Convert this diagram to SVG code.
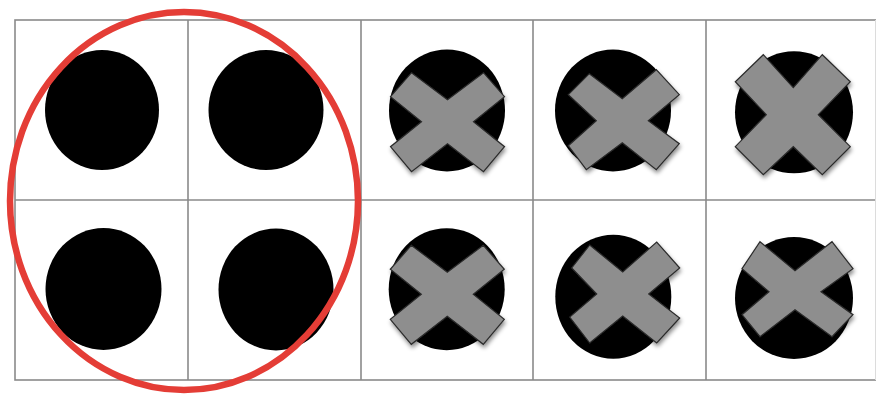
<svg xmlns="http://www.w3.org/2000/svg" width="876" height="401" viewBox="0 0 876 401">
  <defs>
    <style>
      .grid { fill: none; stroke: #8a8a8a; stroke-width: 1.6; }
      .dot { fill: #000; }
      .cross { fill: #8e8e8e; stroke: #2a2a2a; stroke-width: 1.2; stroke-linejoin: miter; filter: url(#shadow); }
      .ring { fill: none; stroke: #e43d36; stroke-width: 6.5; }
    </style>
    <filter id="shadow" x="-20%" y="-20%" width="150%" height="150%">
      <feDropShadow dx="1" dy="3" stdDeviation="2" flood-color="#000" flood-opacity="0.45"/>
    </filter>
    <polygon id="xmark" points="-36,-49 0,-22 36,-49 57,-25 26,0 57,25 36,50 0,22 -36,50 -57,25 -26,0 -57,-25"/>
  </defs>
  <rect width="876" height="401" fill="#fff"/>

  <g id="frame">
    <rect class="grid" x="15" y="20" width="861" height="360"/>
    <line class="grid" x1="15" y1="200" x2="876" y2="200"/>
    <line class="grid" x1="188" y1="20" x2="188" y2="380"/>
    <line class="grid" x1="361" y1="20" x2="361" y2="380"/>
    <line class="grid" x1="533" y1="20" x2="533" y2="380"/>
    <line class="grid" x1="706" y1="20" x2="706" y2="380"/>
    <line x1="875.5" y1="20" x2="875.5" y2="380" stroke="#dcdcdc" stroke-width="1"/>
  </g>

  <g id="cell-r1c1"><ellipse class="dot" cx="102" cy="110" rx="57" ry="60"/></g>
  <g id="cell-r1c2"><ellipse class="dot" cx="266" cy="110" rx="57.5" ry="60"/></g>
  <g id="cell-r2c1"><ellipse class="dot" cx="103.5" cy="289" rx="58" ry="61"/></g>
  <g id="cell-r2c2"><ellipse class="dot" cx="276" cy="289.5" rx="57.5" ry="61"/></g>

  <g id="cell-r1c3">
    <ellipse class="dot" cx="447" cy="110.5" rx="58" ry="61"/>
    <use href="#xmark" class="cross" transform="translate(447.5,121.7)"/>
  </g>
  <g id="cell-r1c4">
    <ellipse class="dot" cx="613" cy="110.5" rx="58" ry="61"/>
    <polygon class="cross" transform="translate(622.3,120.7)" points="-33,-47 0,-22 34,-51 57,-26 26,0 57,23 34,49 0,22 -36,49 -54,25 -26,0 -54,-26"/>
  </g>
  <g id="cell-r1c5">
    <ellipse class="dot" cx="794" cy="112.3" rx="59" ry="61"/>
    <polygon class="cross" transform="translate(793.3,116.7)" points="-30,-62 0,-29 29,-62 57,-35 25,-2 57,30 29,58 0,30 -30,58 -58,30 -27,-2 -58,-35"/>
  </g>

  <g id="cell-r2c3">
    <ellipse class="dot" cx="446.7" cy="289.2" rx="58" ry="61"/>
    <use href="#xmark" class="cross" transform="translate(447.3,294.3)"/>
  </g>
  <g id="cell-r2c4">
    <ellipse class="dot" cx="613.3" cy="296.7" rx="58" ry="62"/>
    <polygon class="cross" transform="translate(622.7,294)" points="-33,-49 0,-22 34,-52 57,-26 26,0 57,24 34,49 0,22 -33,49 -53,23 -26,0 -51,-26"/>
  </g>
  <g id="cell-r2c5">
    <ellipse class="dot" cx="794" cy="298" rx="59" ry="61"/>
    <polygon class="cross" transform="translate(795,290.7)" points="-35,-49 0,-20 37,-49 58,-22 26,1 58,24 37,46 0,19 -35,46 -53,24 -26,1 -53,-22"/>
  </g>

  <g id="highlight">
    <ellipse class="ring" cx="184" cy="201" rx="174" ry="189"/>
  </g>
</svg>
